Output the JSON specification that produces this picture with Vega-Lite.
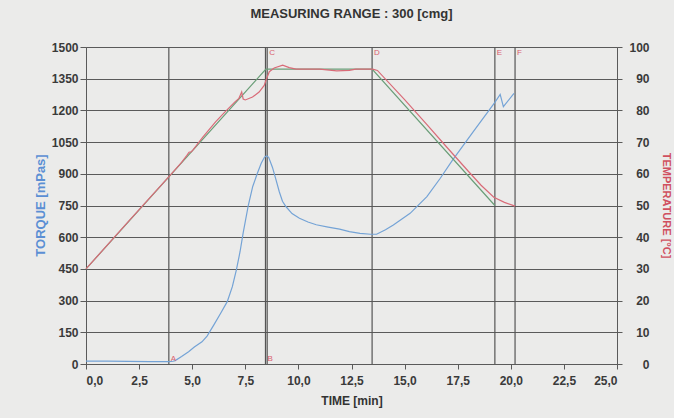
{
  "$schema": "https://vega.github.io/schema/vega-lite/v6.json",
  "width": 531,
  "height": 317,
  "autosize": "none",
  "padding": {"left": 86, "top": 47, "right": 57, "bottom": 54},
  "background": "#ebebea",
  "title": {"text": "MEASURING RANGE : 300 [cmg]", "fontSize": 13, "fontWeight": "bold", "color": "#333333", "font": "Liberation Sans", "offset": 20, "anchor": "middle"},
  "config": {
    "font": "Liberation Sans",
    "view": {"stroke": "#5a5a5a", "strokeWidth": 1},
    "axis": {"labelFont": "Liberation Sans", "labelFontWeight": "bold", "labelFontSize": 12, "labelColor": "#3a3a3a", "domain": false, "tickColor": "#5a5a5a", "gridColor": "#5a5a5a", "gridOpacity": 1, "titleFont": "Liberation Sans", "titleFontWeight": "bold", "titleFontSize": 12}
  },
  "datasets": {
    "torque": [
      {"t": 0, "v": 14}, {"t": 1.0, "v": 14}, {"t": 2.0, "v": 12}, {"t": 3.0, "v": 11}, {"t": 3.9, "v": 11},
      {"t": 4.1, "v": 13}, {"t": 4.2, "v": 16}, {"t": 4.5, "v": 35}, {"t": 4.83, "v": 58}, {"t": 5.1, "v": 80},
      {"t": 5.46, "v": 105}, {"t": 5.7, "v": 132}, {"t": 6.02, "v": 185}, {"t": 6.34, "v": 240}, {"t": 6.65, "v": 295},
      {"t": 6.89, "v": 366}, {"t": 7.08, "v": 445}, {"t": 7.25, "v": 530}, {"t": 7.4, "v": 620}, {"t": 7.64, "v": 750},
      {"t": 7.85, "v": 840}, {"t": 8.06, "v": 900}, {"t": 8.25, "v": 950}, {"t": 8.4, "v": 978}, {"t": 8.5, "v": 985},
      {"t": 8.6, "v": 978}, {"t": 8.78, "v": 930}, {"t": 8.95, "v": 870}, {"t": 9.1, "v": 815}, {"t": 9.25, "v": 770},
      {"t": 9.42, "v": 744}, {"t": 9.7, "v": 712}, {"t": 10.05, "v": 690}, {"t": 10.45, "v": 672}, {"t": 10.84, "v": 659},
      {"t": 11.4, "v": 648}, {"t": 11.94, "v": 638}, {"t": 12.4, "v": 626}, {"t": 12.9, "v": 618}, {"t": 13.4, "v": 614},
      {"t": 13.68, "v": 614}, {"t": 14.1, "v": 635}, {"t": 14.47, "v": 658}, {"t": 15.26, "v": 713}, {"t": 16.05, "v": 792},
      {"t": 16.68, "v": 879}, {"t": 17.24, "v": 962}, {"t": 18.2, "v": 1095}, {"t": 19.25, "v": 1238}, {"t": 19.5, "v": 1276},
      {"t": 19.65, "v": 1218}, {"t": 20.15, "v": 1280}
    ],
    "temp": [
      {"t": 0, "c": 30, "s": "setpoint"}, {"t": 8.47, "c": 93, "s": "setpoint"}, {"t": 13.47, "c": 93, "s": "setpoint"}, {"t": 19.25, "c": 50, "s": "setpoint"},
      {"t": 0, "c": 30, "s": "actual"}, {"t": 1.0, "c": 37.5, "s": "actual"}, {"t": 2.0, "c": 45, "s": "actual"}, {"t": 3.0, "c": 52.4, "s": "actual"},
      {"t": 4.0, "c": 59.8, "s": "actual"}, {"t": 4.5, "c": 63.6, "s": "actual"}, {"t": 4.75, "c": 65.8, "s": "actual"}, {"t": 4.85, "c": 66.8, "s": "actual"},
      {"t": 4.95, "c": 66.9, "s": "actual"}, {"t": 5.05, "c": 67.6, "s": "actual"}, {"t": 5.5, "c": 71.6, "s": "actual"}, {"t": 6.1, "c": 76.4, "s": "actual"},
      {"t": 6.5, "c": 79.2, "s": "actual"}, {"t": 7.0, "c": 82.6, "s": "actual"}, {"t": 7.2, "c": 83.8, "s": "actual"}, {"t": 7.33, "c": 85.8, "s": "actual"},
      {"t": 7.4, "c": 83.6, "s": "actual"}, {"t": 7.5, "c": 83.3, "s": "actual"}, {"t": 7.84, "c": 84.2, "s": "actual"}, {"t": 8.15, "c": 85.8, "s": "actual"},
      {"t": 8.39, "c": 87.9, "s": "actual"}, {"t": 8.5, "c": 90, "s": "actual"}, {"t": 8.63, "c": 92.2, "s": "actual"}, {"t": 8.86, "c": 93.4, "s": "actual"},
      {"t": 9.26, "c": 94.3, "s": "actual"}, {"t": 9.57, "c": 93.5, "s": "actual"}, {"t": 9.89, "c": 93.0, "s": "actual"}, {"t": 11.0, "c": 93.0, "s": "actual"},
      {"t": 11.8, "c": 92.5, "s": "actual"}, {"t": 12.4, "c": 92.6, "s": "actual"}, {"t": 12.7, "c": 93.0, "s": "actual"}, {"t": 13.5, "c": 93.0, "s": "actual"},
      {"t": 13.72, "c": 92.6, "s": "actual"}, {"t": 15.0, "c": 83.4, "s": "actual"}, {"t": 16.0, "c": 75.9, "s": "actual"}, {"t": 17.0, "c": 68.3, "s": "actual"},
      {"t": 18.0, "c": 60.8, "s": "actual"}, {"t": 18.6, "c": 56.4, "s": "actual"}, {"t": 19.2, "c": 52.6, "s": "actual"}, {"t": 19.7, "c": 51.0, "s": "actual"},
      {"t": 20.2, "c": 49.8, "s": "actual"}
    ],
    "events": [
      {"t": 3.9, "label": "A", "end": "bottom"},
      {"t": 8.45, "label": "B", "end": "bottom"},
      {"t": 8.53, "label": "C", "end": "top"},
      {"t": 13.47, "label": "D", "end": "top"},
      {"t": 19.25, "label": "E", "end": "top"},
      {"t": 20.2, "label": "F", "end": "top"}
    ]
  },
  "layer": [
    {
      "data": {"name": "events"},
      "mark": {"type": "rule", "color": "#555555", "strokeWidth": 1.2},
      "encoding": {
        "x": {"field": "t", "type": "quantitative", "scale": {"domain": [0, 25], "nice": false},
          "axis": {"values": [0, 2.5, 5, 7.5, 10, 12.5, 15, 17.5, 20, 22.5, 25], "labelExpr": "replace(format(datum.value, '.1f'), '.', ',')", "grid": false, "ticks": true, "tickSize": 5, "labelPadding": 6, "title": "TIME  [min]", "titleColor": "#333333", "titleY": 31, "titleBaseline": "top"}}
      }
    },
    {
      "data": {"name": "torque"},
      "mark": {"type": "line", "color": "#74a3d6", "strokeWidth": 1.2},
      "encoding": {
        "x": {"field": "t", "type": "quantitative"},
        "y": {"field": "v", "type": "quantitative", "scale": {"domain": [0, 1500], "nice": false},
          "axis": {"orient": "left", "values": [0, 150, 300, 450, 600, 750, 900, 1050, 1200, 1350, 1500], "format": "d", "grid": true, "tickSize": 6, "labelPadding": 2, "title": "TORQUE  [mPas]", "titleColor": "#5b8fd4", "titleFontSize": 13, "titleX": -46, "titleY": 158, "titleAngle": 270, "titleAlign": "center", "titleBaseline": "middle"}}
      }
    },
    {
      "data": {"name": "temp"},
      "mark": {"type": "line", "strokeWidth": 1.2},
      "encoding": {
        "x": {"field": "t", "type": "quantitative"},
        "y": {"field": "c", "type": "quantitative", "scale": {"domain": [0, 100], "nice": false},
          "axis": {"orient": "right", "values": [0, 10, 20, 30, 40, 50, 60, 70, 80, 90, 100], "format": "d", "grid": false, "tickSize": 5, "labelAlign": "right", "labelPadding": 27, "title": "TEMPERATURE [°C]", "titleColor": "#d0505f", "titleFontSize": 11, "titleX": 48, "titleY": 158, "titleAngle": 90, "titleAlign": "center", "titleBaseline": "middle"}},
        "color": {"field": "s", "type": "nominal", "scale": {"domain": ["setpoint", "actual"], "range": ["#6a9e78", "#d96b78"]}, "legend": null}
      }
    },
    {
      "data": {"name": "events"},
      "transform": [{"filter": "datum.end === 'top'"}],
      "mark": {"type": "text", "color": "#d9606e", "fontSize": 8, "align": "left", "baseline": "top", "dx": 2, "dy": 2},
      "encoding": {
        "x": {"field": "t", "type": "quantitative"},
        "y": {"datum": 1500, "type": "quantitative", "scale": {"domain": [0, 1500], "nice": false}, "axis": null},
        "text": {"field": "label"}
      }
    },
    {
      "data": {"name": "events"},
      "transform": [{"filter": "datum.end === 'bottom'"}],
      "mark": {"type": "text", "color": "#d9606e", "fontSize": 8, "align": "left", "baseline": "bottom", "dx": 2, "dy": -1},
      "encoding": {
        "x": {"field": "t", "type": "quantitative"},
        "y": {"datum": 0, "type": "quantitative", "scale": {"domain": [0, 1500], "nice": false}, "axis": null},
        "text": {"field": "label"}
      }
    }
  ],
  "resolve": {"scale": {"y": "independent"}}
}
